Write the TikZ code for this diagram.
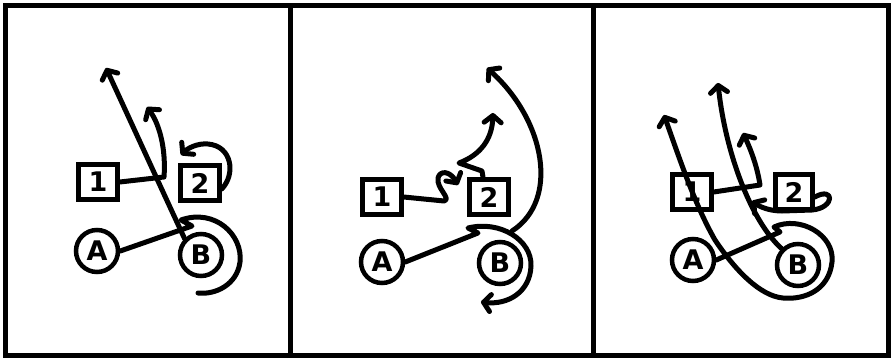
\documentclass[tikz,border=0pt]{standalone}
\usepackage{fontspec}
\setsansfont{DejaVu Sans}
\usetikzlibrary{arrows.meta}
\begin{document}
\begin{tikzpicture}[x=1pt,y=-1pt,
			every node/.style={font=\fontsize{27}{27}\selectfont\sffamily\bfseries},
			player/.style={circle,draw,line width=4.5pt,minimum size=42pt,inner sep=0pt},
			blocker/.style={rectangle,draw,line width=4.5pt,minimum width=39pt,minimum height=35pt,inner sep=0pt},
			route/.style={line width=5pt,line cap=round,line join=round,-{Straight Barb[length=7pt,width=17pt,round]}},
			trail/.style={line width=5pt,line cap=round,line join=round},
			declare function={
				frameL = 5;
				frameR = 888;
				frameT = 5;
				frameB = 355;
				divA = 290;
				divB = 593;
			}
			]
			\useasboundingbox (0,0) rectangle (892,362);
			% frame and panel dividers
			\draw[line width=5pt] (frameL,frameT) rectangle (frameR,frameB);
			\draw[line width=5pt] (divA,frameT) -- (divA,frameB);
			\draw[line width=5pt] (divB,frameT) -- (divB,frameB);
			% panel 1
			\node[blocker] (one1) at (98,182) {1};
			\node[blocker] (two1) at (200,183) {2};
			\node[player] (a1) at (97,251) {A};
			\node[player] (b1) at (201,255) {B};
			\coordinate (tipA1) at (106,68);
			\coordinate (tipB1) at (147,107);
			\coordinate (tipC1) at (181,155);
			\draw[route] (b1.north west) .. controls (162,190) and (130,120) .. (tipA1);
			\draw[route] (one1.east) -- (164,177) .. controls (166,150) and (160,125) .. (tipB1);
			\draw[route] ([yshift=-6pt]two1.east) .. controls (236,174) and (232,146) .. (208,144) .. controls (198,143) and (188,148) .. (tipC1);
			\draw[trail] (a1.east) -- (192,226) -- (181,220) .. controls (215,208) and (243,235) .. (240,262) .. controls (237,285) and (215,295) .. (198,293);
			% panel 2
			\node[blocker] (one2) at (382,197) {1};
			\node[blocker] (two2) at (489,197) {2};
			\node[player] (a2) at (382,262) {A};
			\node[player] (b2) at (500,263) {B};
			\coordinate (tipA2) at (458,185);
			\coordinate (tipB2) at (493,113);
			\coordinate (tipC2) at (487,68);
			\coordinate (tipD2) at (481,302);
			\coordinate (join2) at (512,231);
			\draw[route] (one2.east) -- (444,201) .. controls (452,199) and (436,188) .. (438,178) .. controls (440,170) and (450,171) .. (tipA2);
			\draw[route] ([xshift=-6pt]two2.north) -- (482,171) -- (459,163) .. controls (480,155) and (492,140) .. (tipB2);
			\draw[route] (join2) .. controls (560,200) and (545,120) .. (tipC2);
			\draw[route] (a2.east) -- (478,233) -- (468,228) .. controls (500,220) and (532,240) .. (531,266) .. controls (530,292) and (508,305) .. (tipD2);
			% panel 3
			\node[blocker] (one3) at (692,192) {1};
			\node[blocker,minimum width=37pt] (two3) at (794,192) {2};
			\node[player] (a3) at (693,260) {A};
			\node[player] (b3) at (798,265) {B};
			\coordinate (tipA3) at (743,133);
			\coordinate (tipB3) at (718,83);
			\coordinate (tipC3) at (752,201);
			\coordinate (tipD3) at (664,115);
			\draw[route] (one3.east) -- (760,185) .. controls (757,165) and (750,148) .. (tipA3);
			\draw[route] (b3.north west) .. controls (750,220) and (725,150) .. (tipB3);
			\draw[route] ([yshift=-5pt]two3.east) .. controls (835,186) and (835,208) .. (812,210) -- (782,211) .. controls (770,211) and (760,207) .. (tipC3);
			\draw[route] (a3.east) -- (780,232) -- (774,227) .. controls (800,215) and (835,235) .. (832,262) .. controls (829,290) and (805,300) .. (783,298) .. controls (760,296) and (735,270) .. (715,240) .. controls (695,205) and (680,160) .. (tipD3);
		\end{tikzpicture}
\end{document}
